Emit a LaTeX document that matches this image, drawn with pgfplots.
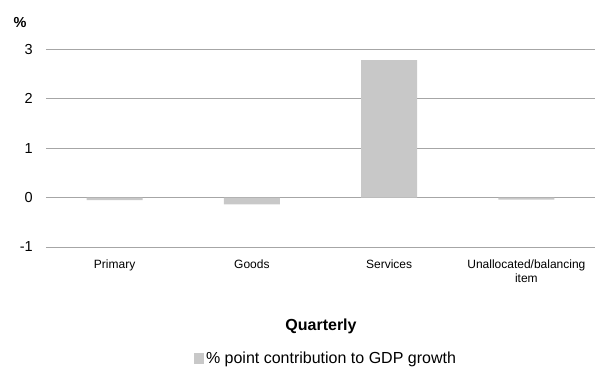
\documentclass[border=0pt]{standalone}
\usepackage{pgfplots}
\pgfplotsset{compat=1.18}
\usepackage{fontspec}
\setmainfont{Liberation Sans}
\definecolor{barcol}{HTML}{C8C8C8}
\definecolor{gridcol}{HTML}{A6A6A6}
\begin{document}
\begin{tikzpicture}[x=1pt,y=1pt]
\path[use as bounding box] (-46,-120) rectangle (550,247);
\begin{axis}[
  at={(0,0)}, anchor=south west,
  scale only axis, width=549pt, height=197.7pt,
  ymin=-1, ymax=3, xmin=-0.5, xmax=3.5,
  ytick={-1,1,2,3},
  extra y ticks={0},
  extra y tick style={grid style={black, line width=1.2pt}},
  xtick={0,1,2,3},
  xticklabels={Primary, Goods, Services, {Unallocated/balancing\\item}},
  axis line style={draw=none},
  major tick length=0pt,
  tick style={draw=none},
  ymajorgrids,
  major grid style={gridcol, line width=0.8pt},
  /pgf/number format/assume math mode=true,
  yticklabel style={font=\fontsize{14.5}{17}\selectfont, inner sep=0pt, anchor=east, xshift=-13pt},
  xticklabel style={font=\fontsize{12}{14}\selectfont, align=center, inner sep=0pt, anchor=north, yshift=-13pt},
  legend style={at={(axis description cs:0.51,-0.565)}, anchor=center, draw=none, fill=none,
     font=\fontsize{16}{19}\selectfont, inner sep=0pt,
     legend cell align=left},
  legend image code/.code={\fill[barcol] (0pt,-5.5pt) rectangle (10pt,5.5pt);},
]
\addplot[ybar, bar width=56pt, fill=barcol, draw=none] coordinates {(0,-0.05) (1,-0.14) (2,2.78) (3,-0.04)};
\addlegendentry{\% point contribution to GDP growth}
\end{axis}
\node[font=\bfseries\fontsize{14.5}{17}\selectfont] at (-26,224) {\%};
\node[font=\bfseries\fontsize{16}{19}\selectfont] at (275,-79) {Quarterly};
\end{tikzpicture}
\end{document}
